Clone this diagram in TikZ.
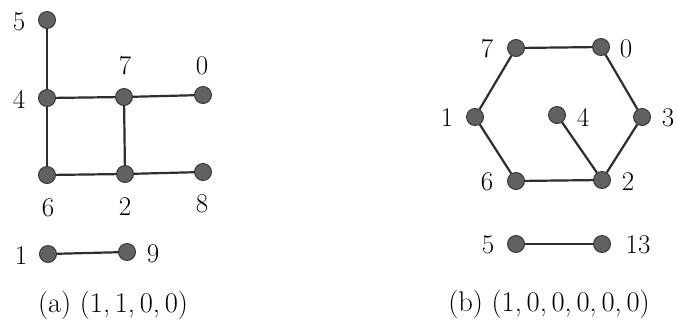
\documentclass[tikz,border=0pt]{standalone}
\usepackage{fontspec}
\begin{document}
\begin{tikzpicture}[x=1pt,y=-1pt,
  v/.style={circle,fill=black!62,draw=black!80,line width=0.9pt,inner sep=0pt,minimum size=17pt},
  e/.style={line width=2.2pt,black!82},
  lab/.style={font=\fontsize{27}{32}\selectfont,inner sep=0pt}]
\useasboundingbox[fill=white] (0,0) rectangle (677,325);
% graph (a)
\node[v] (a5) at (47,20) {};
\node[v] (a4) at (47,98) {};
\node[v] (a7) at (124,97) {};
\node[v] (a0) at (203,95) {};
\node[v] (a6) at (47,175) {};
\node[v] (a2) at (125,174) {};
\node[v] (a8) at (203,172) {};
\node[v] (a1) at (48,254) {};
\node[v] (a9) at (127,252) {};
\draw[e] (a5) -- (a4);
\draw[e] (a4) -- (a7);
\draw[e] (a7) -- (a0);
\draw[e] (a4) -- (a6);
\draw[e] (a7) -- (a2);
\draw[e] (a6) -- (a2);
\draw[e] (a2) -- (a8);
\draw[e] (a1) -- (a9);
\node[lab] (la5) at (19,22) {5};
\node[lab] (la4) at (19,99) {4};
\node[lab] (la7) at (125,66) {7};
\node[lab] (la0) at (202,66) {0};
\node[lab] (la6) at (48,208) {6};
\node[lab] (la2) at (125,207) {2};
\node[lab] (la8) at (202,204) {8};
\node[lab] (la1) at (21,256) {1};
\node[lab] (la9) at (153,254) {9};
\node[lab,font=\fontsize{28.5}{32}\selectfont] (capa) at (113,305) {(a) (1,\,1,\,0,\,0)};
% graph (b)
\node[v] (b7) at (516,48) {};
\node[v] (b0) at (601,47) {};
\node[v] (b1) at (475,117) {};
\node[v] (b4) at (557,115) {};
\node[v] (b3) at (642,117) {};
\node[v] (b6) at (516,181) {};
\node[v] (b2) at (602,180) {};
\node[v] (b5) at (516,244) {};
\node[v] (b13) at (602,244) {};
\draw[e] (b7) -- (b0);
\draw[e] (b0) -- (b3);
\draw[e] (b3) -- (b2);
\draw[e] (b2) -- (b6);
\draw[e] (b6) -- (b1);
\draw[e] (b1) -- (b7);
\draw[e] (b4) -- (b2);
\draw[e] (b5) -- (b13);
\node[lab] (lb7) at (487,49) {7};
\node[lab] (lb0) at (626,49) {0};
\node[lab] (lb1) at (447,118) {1};
\node[lab] (lb4) at (583,117) {4};
\node[lab] (lb3) at (668,118) {3};
\node[lab] (lb6) at (487,182) {6};
\node[lab] (lb2) at (628,182) {2};
\node[lab] (lb5) at (488,245) {5};
\node[lab] (lb13) at (638,245) {13};
\node[lab,font=\fontsize{28.5}{32}\selectfont] (capb) at (549,304) {(b) (1,\,0,\,0,\,0,\,0,\,0)};
\end{tikzpicture}
\end{document}
